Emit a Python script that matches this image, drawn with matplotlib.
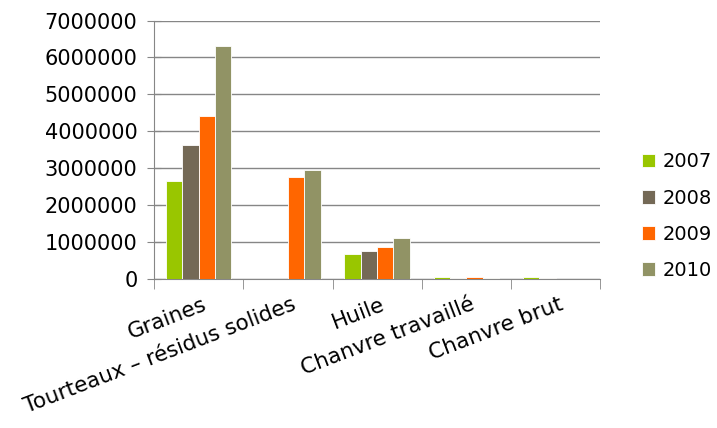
import numpy as np
from matplotlib import pyplot as plt

# categories and yearly values
categories = ["Graines", "Tourteaux \u2013 r\u00e9sidus solides", "Huile",
              "Chanvre travaill\u00e9", "Chanvre brut"]
years = ["2007", "2008", "2009", "2010"]
v2007 = [2660000, 0, 690000, 55000, 45000]
v2008 = [3620000, 0, 750000, 40000, 20000]
v2009 = [4410000, 2750000, 860000, 55000, 0]
v2010 = [6300000, 2950000, 1100000, 25000, 0]
colors = ["#99c600", "#746956", "#ff6600", "#919365"]

plt.rcParams['font.family'] = ['DejaVu Sans']

fig = plt.figure(figsize=(7.17, 4.28), dpi=100)
ax = fig.add_axes([0.215, 0.348, 0.622, 0.604])

x = np.arange(len(categories))
w = 0.183
series = [v2007, v2008, v2009, v2010]
for i, (vals, c, yr) in enumerate(zip(series, colors, years)):
    ax.bar(x + (i - 1.5) * w, vals, w, color=c, edgecolor="white", linewidth=0.6,
           label=yr, zorder=3)

ax.set_xlim(-0.5, len(categories) - 0.5)
ax.set_ylim(0, 7000000)
ax.set_yticks(np.arange(0, 7000001, 1000000))
ax.set_yticklabels([str(v) for v in range(0, 7000001, 1000000)], fontsize=15)
ax.yaxis.grid(True, color="#868686", linewidth=1, zorder=0)

ax.set_xticks(x + 0.04)
ax.set_xticklabels(categories, fontsize=15.5, rotation=21, ha="right",
                   rotation_mode="anchor")
ax.set_xticks(np.arange(-0.5, len(categories)), minor=True)
ax.tick_params(axis="x", which="major", length=0, pad=11)
ax.tick_params(axis="x", which="minor", length=7, color="#868686")
ax.tick_params(axis="y", length=10, direction="inout", color="#868686", pad=7)

for s in ["top", "right"]:
    ax.spines[s].set_visible(False)
for s in ["left", "bottom"]:
    ax.spines[s].set_color("#868686")

fig.legend(loc="center left", bbox_to_anchor=(0.895, 0.495), frameon=False,
           fontsize=14, handlelength=0.7, handleheight=0.7, handletextpad=0.4,
           labelspacing=0.88, borderpad=0, borderaxespad=0)

fig.savefig("out.png", dpi=100)
